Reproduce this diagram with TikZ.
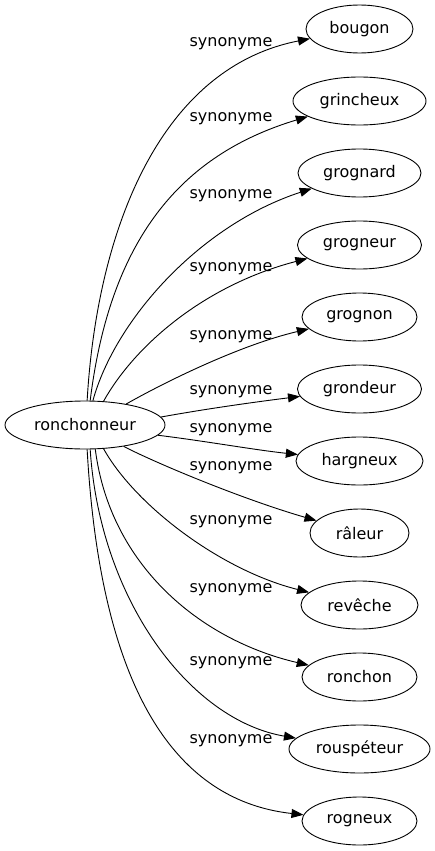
\documentclass[tikz,border=0pt]{standalone}
\usepackage{fontspec}
\setmainfont{DejaVu Sans}
\usetikzlibrary{arrows.meta,shapes.geometric}
\begin{document}
\begin{tikzpicture}[x=1pt,y=-1pt,
  every node/.style={font=\fontsize{16}{19}\selectfont},
  word/.style={ellipse, draw, line width=0.9pt, minimum height=48pt, inner sep=0pt},
  lbl/.style={inner sep=0pt},
  syn/.style={draw, line width=0.9pt, -{Triangle[length=12pt,width=9pt]}}]
\useasboundingbox (0,0) rectangle (435,851);
\node[word, minimum width=160pt] (src) at (85,425) {ronchonneur};
\node[word, minimum width=107pt] (bougon) at (359.5,29) {bougon};
\node[word, minimum width=133pt] (grincheux) at (359.5,101) {grincheux};
\node[word, minimum width=123pt] (grognard) at (359.5,173) {grognard};
\node[word, minimum width=124pt] (grogneur) at (359.5,245) {grogneur};
\node[word, minimum width=115pt] (grognon) at (359.5,317) {grognon};
\node[word, minimum width=124pt] (grondeur) at (359.5,389) {grondeur};
\node[word, minimum width=127pt] (hargneux) at (359.5,461) {hargneux};
\node[word, minimum width=99pt] (raleur) at (359.5,533) {râleur};
\node[word, minimum width=117pt] (reveche) at (359.5,605) {revêche};
\node[word, minimum width=115pt] (ronchon) at (359.5,677) {ronchon};
\node[word, minimum width=141pt] (rouspeteur) at (359.5,749) {rouspéteur};
\node[word, minimum width=115pt] (rogneux) at (359.5,821) {rogneux};

\draw[syn] (src.85) .. controls (97,230) and (160,68) .. (bougon);
\draw[syn] (src.78) .. controls (110,240) and (180,155) .. (grincheux);
\draw[syn] (src.72) .. controls (115,320) and (200,225) .. (grognard);
\draw[syn] (src.52) .. controls (135,345) and (205,285) .. (grogneur);
\draw[syn] (src.27) .. controls (165,382) and (240,345) .. (grognon);
\draw[syn] (src.6) .. controls (205,409) and (255,402) .. (grondeur);
\draw[syn] (src.-8) .. controls (205,441) and (255,450) .. (hargneux);
\draw[syn] (src.-29) .. controls (160,465) and (245,500) .. (raleur);
\draw[syn] (src.-52) .. controls (135,505) and (220,570) .. (reveche);
\draw[syn] (src.-67) .. controls (110,565) and (200,640) .. (ronchon);
\draw[syn] (src.-78) .. controls (100,600) and (190,720) .. (rouspeteur);
\draw[syn] (src.-85) .. controls (100,680) and (170,800) .. (rogneux);

\node[lbl] (l1) at (231,44) {synonyme};
\node[lbl] (l2) at (231,119) {synonyme};
\node[lbl] (l3) at (231,196) {synonyme};
\node[lbl] (l4) at (231,269) {synonyme};
\node[lbl] (l5) at (231,337) {synonyme};
\node[lbl] (l6) at (231,392) {synonyme};
\node[lbl] (l7) at (231,430) {synonyme};
\node[lbl] (l8) at (231,468) {synonyme};
\node[lbl] (l9) at (231,522) {synonyme};
\node[lbl] (l10) at (231,590) {synonyme};
\node[lbl] (l11) at (231,663) {synonyme};
\node[lbl] (l12) at (231,741) {synonyme};
\end{tikzpicture}
\end{document}
